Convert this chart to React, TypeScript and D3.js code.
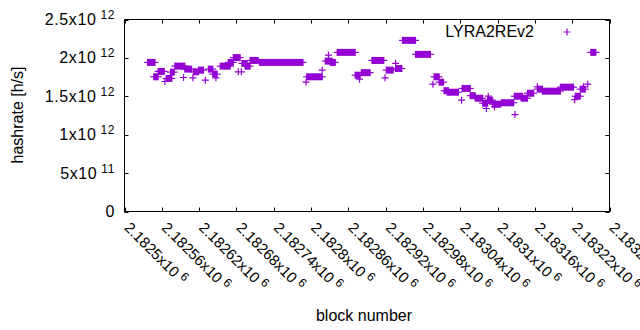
import React from 'react';
import * as d3 from 'd3';

// runs of consecutive blocks reporting the same hashrate (x10^12 h/s)
const runStart = [
  2182537, 2182547, 2182554, 2182567, 2182574, 2182581, 2182597, 2182611, 2182619, 2182635,
  2182642, 2182654, 2182667, 2182675, 2182689, 2182694, 2182702, 2182717, 2182793, 2182823,
  2182831, 2182842, 2182871, 2182881, 2182898, 2182921, 2182936, 2182947, 2182968, 2182998,
  2183006, 2183014, 2183019, 2183043, 2183056, 2183064, 2183076, 2183084, 2183092, 2183106,
  2183127, 2183138, 2183148, 2183164, 2183172, 2183201, 2183225, 2183233, 2183250,
];
const runEnd = [
  2182549, 2182554, 2182564, 2182576, 2182580, 2182597, 2182608, 2182619, 2182627, 2182642,
  2182649, 2182670, 2182675, 2182686, 2182697, 2182702, 2182715, 2182787, 2182818, 2182834,
  2182839, 2182871, 2182879, 2182895, 2182917, 2182932, 2182946, 2182968, 2182992, 2183006,
  2183013, 2183021, 2183037, 2183056, 2183064, 2183076, 2183084, 2183092, 2183105, 2183126,
  2183140, 2183148, 2183158, 2183172, 2183201, 2183222, 2183233, 2183241, 2183258,
];
const runValue = [
  1.941, 1.754, 1.824, 1.732, 1.815, 1.893, 1.854, 1.819, 1.841, 1.854,
  1.789, 1.893, 1.941, 2.004, 1.928, 1.893, 1.967, 1.941, 1.754, 1.958,
  1.941, 2.072, 1.775, 1.808, 1.967, 1.841, 1.862, 2.228, 2.046, 1.754,
  1.684, 1.573, 1.553, 1.602, 1.508, 1.475, 1.410, 1.449, 1.397, 1.416,
  1.501, 1.475, 1.540, 1.593, 1.567, 1.619, 1.501, 1.593, 2.072,
];

// lone blocks
const pointBlock = [
  2182565, 2182595, 2182610, 2182630, 2182647, 2182683, 2182688, 2182792, 2182818, 2182828,
  2182878, 2182919, 2182936, 2182996, 2183042, 2183082, 2183085, 2183095, 2183128, 2183164,
  2183224, 2183238, 2183245,
];
const pointValue = [
  1.693, 1.745, 1.740, 1.710, 1.740, 1.819, 1.819, 1.684, 1.841, 2.037,
  1.723, 1.740, 1.928, 1.658, 1.449, 1.341, 1.501, 1.362, 1.262, 1.623,
  1.456, 1.623, 1.658,
];

const xTicks = [
  2182500, 2182560, 2182620, 2182680, 2182740, 2182800, 2182860,
  2182920, 2182980, 2183040, 2183100, 2183160, 2183220, 2183280,
];
const yTicks = [0, 5e11, 1e12, 1.5e12, 2e12, 2.5e12];

const seriesName = 'LYRA2REv2';
const color = '#9400d3';
const font = '"Liberation Sans", Arial, sans-serif';

const left = 124.5, right = 609.5, top = 19.5, bottom = 211.5;
const arm = 3.5;

// "2.5x10" + superscript "12"
const sciParts = (v: number) => {
  if (v === 0) return null;
  const [m, e] = v.toExponential().split('e');
  return { mant: m, exp: String(+e) };
};

const plus = (x: number, y: number) =>
  `M${x - arm},${y}H${x + arm}M${x},${y - arm}V${y + arm}`;

export default function App() {
  const x = d3.scaleLinear().domain([2182500, 2183280]).range([left, right]);
  const y = d3.scaleLinear().domain([0, 2.5e12]).range([bottom, top]);

  return (
    <svg width={640} height={330} style={{ position: 'absolute', left: 0, top: 0, background: '#fff' }}
      fontFamily={font}>
      {/* ticks */}
      <g stroke="#000" strokeWidth={1}>
        {yTicks.map((t) => (
          <g key={'y' + t}>
            <line x1={left} x2={left + 4} y1={Math.round(y(t)) + 0.5} y2={Math.round(y(t)) + 0.5} />
            <line x1={right - 4} x2={right} y1={Math.round(y(t)) + 0.5} y2={Math.round(y(t)) + 0.5} />
          </g>
        ))}
        {xTicks.map((t) => (
          <g key={'x' + t}>
            <line x1={Math.round(x(t)) + 0.5} x2={Math.round(x(t)) + 0.5} y1={bottom} y2={bottom - 4} />
            <line x1={Math.round(x(t)) + 0.5} x2={Math.round(x(t)) + 0.5} y1={top} y2={top + 4} />
          </g>
        ))}
      </g>

      {/* y tick labels */}
      <g fontSize={16} fill="#000" textAnchor="end">
        {yTicks.map((t) => {
          const p = sciParts(t);
          return (
            <text key={'yl' + t} x={115} y={y(t) + 5.5} letterSpacing={0.6}>
              {p ? (
                <>
                  {p.mant + 'x10'}
                  <tspan dx={4} dy={-6} fontSize={12}>{p.exp}</tspan>
                </>
              ) : '0'}
            </text>
          );
        })}
      </g>

      {/* x tick labels */}
      <g fontSize={15} fill="#000">
        {xTicks.map((t) => {
          const p = sciParts(t)!;
          return (
            <text key={'xl' + t} transform={`translate(${x(t) - 1},${bottom + 17}) rotate(45)`}>
              {p.mant + 'x10'}
              <tspan dx={4} dy={-5} fontSize={12}>{p.exp}</tspan>
            </text>
          );
        })}
      </g>

      {/* data */}
      <g fill={color} stroke={color} strokeWidth={1.2}>
        {runStart.map((s, i) => {
          const x0 = x(s), x1 = x(runEnd[i]), yy = y(runValue[i] * 1e12);
          return (
            <g key={'r' + i}>
              <rect x={x0 - 0.6} y={yy - arm} width={x1 - x0 + 1.2} height={arm * 2} stroke="none" />
              <line x1={x0 - arm} x2={x1 + arm} y1={yy} y2={yy} />
            </g>
          );
        })}
        <path fill="none" d={pointBlock.map((b, i) => plus(x(b), y(pointValue[i] * 1e12))).join('')} />
      </g>

      {/* frame */}
      <rect x={left} y={top} width={right - left} height={bottom - top} fill="none" stroke="#000" strokeWidth={1} />

      {/* legend */}
      <text x={534} y={37} fontSize={16} textAnchor="end" fill="#000">{seriesName}</text>
      <path d={plus(567, 32)} stroke={color} strokeWidth={1.2} fill="none" />

      {/* axis titles */}
      <text transform="translate(23,115) rotate(-90)" fontSize={16} textAnchor="middle" fill="#000">
        hashrate [h/s]
      </text>
      <text x={364} y={321} fontSize={16} textAnchor="middle" fill="#000">block number</text>
    </svg>
  );
}
